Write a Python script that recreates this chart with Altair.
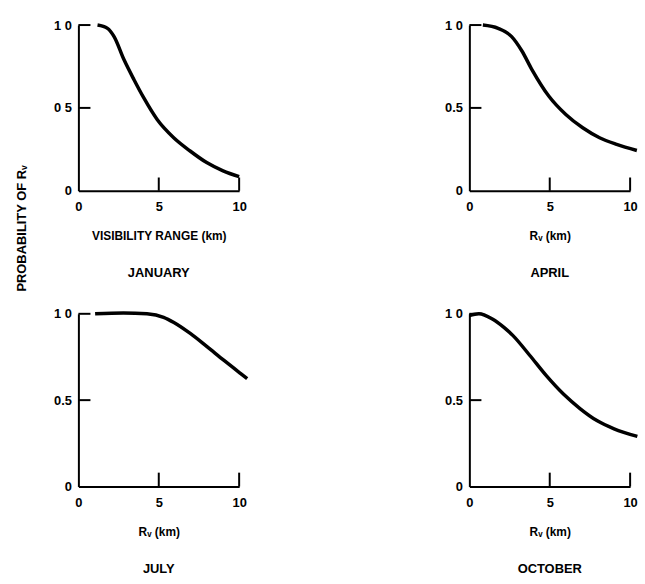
import altair as alt
import pandas as pd

# ---- data ----
jan_x = [1.19, 1.81, 2.22, 2.84, 3.46, 4.07, 4.9, 5.93, 6.95, 7.98, 9.0, 10.0]
jan_y = [1.0, 0.98, 0.93, 0.79, 0.67, 0.56, 0.43, 0.32, 0.24, 0.17, 0.12, 0.085]

apr_x = [0.84, 1.79, 2.63, 3.26, 3.9, 4.95, 6.0, 7.05, 8.1, 9.16, 10.42]
apr_y = [1.0, 0.98, 0.93, 0.845, 0.73, 0.57, 0.46, 0.38, 0.32, 0.28, 0.243]

jul_x = [1.04, 2.8, 4.27, 5.3, 5.94, 6.98, 8.0, 9.06, 10.1, 10.5]
jul_y = [1.0, 1.005, 1.0, 0.98, 0.95, 0.885, 0.81, 0.73, 0.654, 0.625]

oct_x = [0.0, 0.59, 1.43, 2.17, 2.7, 3.75, 4.8, 5.85, 6.9, 7.96, 9.0, 10.45]
oct_y = [0.99, 1.0, 0.97, 0.92, 0.875, 0.76, 0.64, 0.535, 0.45, 0.38, 0.334, 0.29]

x_ticks = [0, 5, 10]
y_ticks = [0, 0.5, 1.0]
inner_x_ticks = [5, 10]
inner_y_ticks = [0.5, 1.0]
x_tick_len = [0.08]
y_tick_len = [0.75]

months = ["JANUARY", "APRIL", "JULY", "OCTOBER"]
x_titles = ["VISIBILITY RANGE (km)", "R\u1d65 (km)", "R\u1d65 (km)", "R\u1d65 (km)"]
y_title = ["PROBABILITY OF R\u1d65"]

FONT = "Liberation Sans"


def panel(xs, ys, month, xtitle, half_label, h):
    df = pd.DataFrame({"x": xs, "y": ys})
    xscale = alt.Scale(domain=[0, 10], nice=False, zero=False)
    yscale = alt.Scale(domain=[0, 1], nice=False, zero=False)
    xaxis = alt.Axis(values=x_ticks, ticks=False, grid=False, domainColor="black",
                     domainWidth=2, labelFont=FONT, labelFontWeight="bold",
                     labelFontSize=13, labelColor="black", labelPadding=10,
                     labelFlush=False, title=xtitle, titleFont=FONT,
                     titleFontWeight="bold", titleFontSize=12, titleColor="black",
                     titlePadding=17)
    yaxis = alt.Axis(values=y_ticks, ticks=False, grid=False, domainColor="black",
                     domainWidth=2, labelFont=FONT, labelFontWeight="bold",
                     labelFontSize=13, labelColor="black", labelPadding=7,
                     labelFlush=False, title=None,
                     labelExpr="datum.value == 1 ? '1 0' : datum.value == 0.5 ? '"
                     + half_label + "' : '0'")
    line = alt.Chart(df).mark_line(color="black", strokeWidth=3.5,
                                   interpolate="monotone", clip=False).encode(
        x=alt.X("x:Q", scale=xscale, axis=xaxis),
        y=alt.Y("y:Q", scale=yscale, axis=yaxis),
    )
    xt_df = pd.DataFrame({"x": inner_x_ticks, "y": [0] * len(inner_x_ticks),
                          "y2": x_tick_len * len(inner_x_ticks)})
    xt = alt.Chart(xt_df).mark_rule(color="black", strokeWidth=2).encode(
        x=alt.X("x:Q"), y=alt.Y("y:Q"), y2="y2:Q")
    yt_df = pd.DataFrame({"y": inner_y_ticks, "x": [0] * len(inner_y_ticks),
                          "x2": y_tick_len * len(inner_y_ticks)})
    yt = alt.Chart(yt_df).mark_rule(color="black", strokeWidth=2).encode(
        y=alt.Y("y:Q"), x=alt.X("x:Q"), x2="x2:Q")
    return alt.layer(line, xt, yt).properties(
        width=162, height=h,
        title=alt.TitleParams(month, orient="bottom", font=FONT, fontSize=13,
                              fontWeight="bold", color="black", offset=26),
    )


jan = panel(jan_x, jan_y, months[0], x_titles[0], "0 5", 167)
apr = panel(apr_x, apr_y, months[1], x_titles[1], "0.5", 167)
jul = panel(jul_x, jul_y, months[2], x_titles[2], "0.5", 174)
octo = panel(oct_x, oct_y, months[3], x_titles[3], "0.5", 174)

grid = alt.concat(
    jan, apr, jul, octo, columns=2, bounds="flush",
    spacing=alt.RowColnumber(row=124, column=232),
)

ylab = alt.Chart(pd.DataFrame({"t": y_title})).mark_text(
    angle=270, font=FONT, fontSize=13, fontWeight="bold", color="black",
    align="center", baseline="middle",
).encode(text="t:N", x=alt.value(7), y=alt.value(205)).properties(width=14, height=420)

chart = alt.hconcat(ylab, grid, spacing=50, bounds="flush").properties(
    padding={"left": 15, "top": 16, "right": 0, "bottom": 0},
).configure_view(strokeWidth=0)

chart.save("out.html", embed_options={"renderer": "svg", "actions": False})
